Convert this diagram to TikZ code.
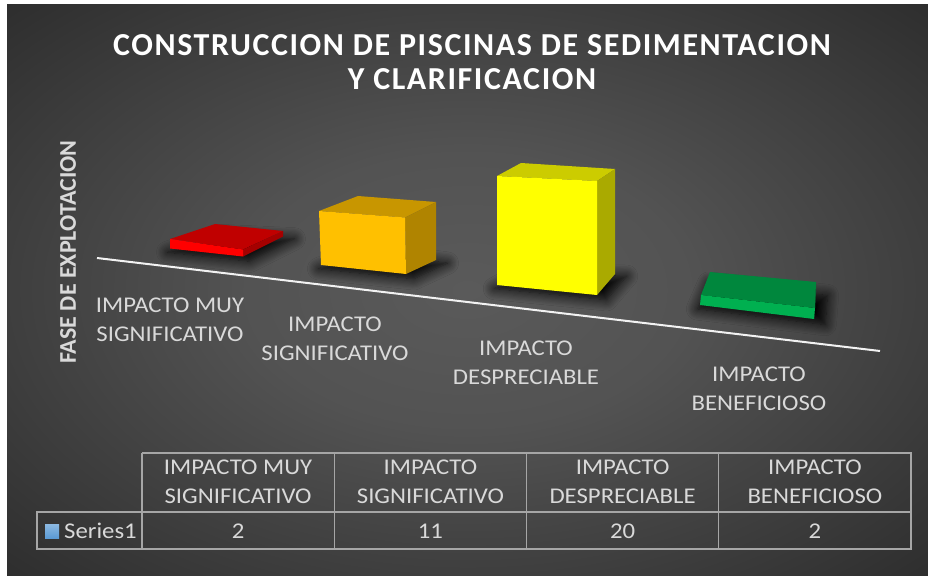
\documentclass[tikz,border=0pt]{standalone}
\usepackage{fontspec}
\setmainfont{Carlito}
\newfontfamily\titlefont{Carlito}[LetterSpace=5]
\newfontfamily\chartfont{Carlito}[FakeStretch=1.1]
\usetikzlibrary{shadows.blur}

\definecolor{bgin}{HTML}{5A5A5A}
\definecolor{bgout}{HTML}{2A2A2A}
\definecolor{labelgray}{HTML}{D9D9D9}
\definecolor{gridgray}{HTML}{A6A6A6}
\definecolor{seriesblue}{HTML}{5B9BD5}
\definecolor{redfront}{HTML}{FF0000}
\definecolor{redtop}{HTML}{C00000}
\definecolor{redside}{HTML}{A50000}
\definecolor{orangefront}{HTML}{FFC000}
\definecolor{orangetop}{HTML}{C89600}
\definecolor{orangeside}{HTML}{B08400}
\definecolor{yellowfront}{HTML}{FFFF00}
\definecolor{yellowtop}{HTML}{CCCC00}
\definecolor{yellowside}{HTML}{AAAA00}
\definecolor{greenfront}{HTML}{00B050}
\definecolor{greentop}{HTML}{00873D}
\definecolor{greenside}{HTML}{007A37}
\pgfdeclareradialshading{chartbg}{\pgfpoint{0bp}{0bp}}{color(0bp)=(bgin); color(12bp)=(bgin!85!bgout); color(38bp)=(bgout); color(50bp)=(bgout)}

% one 3D column: prefix, front, top, side
\newcommand{\impactbox}[4]{%
  \path[boxshadow] (#1-fbl) -- (#1-fbr) -- (#1-bbr) -- (#1-bbl) -- cycle;
  \fill[#3] (#1-ftl) -- (#1-ftr) -- (#1-btr) -- (#1-btl) -- cycle;
  \fill[#4] (#1-ftr) -- (#1-fbr) -- (#1-bbr) -- (#1-btr) -- cycle;
  \fill[#2] (#1-ftl) -- (#1-ftr) -- (#1-fbr) -- (#1-fbl) -- cycle;}

\begin{document}
\begin{tikzpicture}[x=1pt, y=-1pt,
    boxshadow/.style = {blur shadow={shadow xshift=4pt, shadow yshift=-3pt, shadow scale=1.12, shadow blur radius=10pt, shadow blur steps=10, shadow opacity=100}},
    cat/.style = {text=labelgray, align=center, font=\chartfont\fontsize{22.5}{28.5}\selectfont},
    cell/.style = {text=labelgray, align=center, font=\chartfont\fontsize{22.5}{29}\selectfont},
    grid/.style = {draw=gridgray, line width=1.4pt}]
  \useasboundingbox (0,0) rectangle (928,575);
  \fill[white] (0,0) rectangle (928,575);
  \shade[shading=chartbg] (7,5) rectangle (928,575);

  % title
  \node[text=white, align=center, font=\titlefont\bfseries\fontsize{32}{34}\selectfont] (title) at (472,62) {CONSTRUCCION DE PISCINAS DE SEDIMENTACION\\Y CLARIFICACION};

  % axis title
  \node[text=labelgray, rotate=90, font=\bfseries\fontsize{24}{28}\selectfont] (axistitle) at (68,252) {FASE DE EXPLOTACION};

  % category axis
  \coordinate (axisstart) at (97,258);
  \coordinate (axisend) at (880,351);
  \draw[white!90!gray, line width=2pt] (axisstart) -- (axisend);

  % columns
  \coordinate (r-ftl) at (170,239);   \coordinate (r-ftr) at (243,249.5);
  \coordinate (r-fbl) at (170,248.5); \coordinate (r-fbr) at (243,256.5);
  \coordinate (r-btl) at (215,224);   \coordinate (r-btr) at (283,231);
  \coordinate (r-bbl) at (215,233.5); \coordinate (r-bbr) at (283,236.5);
  \impactbox{r}{redfront}{redtop}{redside}

  \coordinate (o-ftl) at (319,211);   \coordinate (o-ftr) at (405,217.5);
  \coordinate (o-fbl) at (321,265);   \coordinate (o-fbr) at (406,274);
  \coordinate (o-btl) at (358,196);   \coordinate (o-btr) at (436,202);
  \coordinate (o-bbl) at (360,250);   \coordinate (o-bbr) at (436,260);
  \impactbox{o}{orangefront}{orangetop}{orangeside}

  \coordinate (y-ftl) at (497,176);   \coordinate (y-ftr) at (597,181);
  \coordinate (y-fbl) at (497,285);   \coordinate (y-fbr) at (597,295);
  \coordinate (y-btl) at (521,163);   \coordinate (y-btr) at (615,169);
  \coordinate (y-bbl) at (521,272);   \coordinate (y-bbr) at (615,274);
  \impactbox{y}{yellowfront}{yellowtop}{yellowside}

  \coordinate (g-ftl) at (701,295);   \coordinate (g-ftr) at (815,308);
  \coordinate (g-fbl) at (700,305);   \coordinate (g-fbr) at (814,319);
  \coordinate (g-btl) at (710,272);   \coordinate (g-btr) at (816,282);
  \coordinate (g-bbl) at (710,282);   \coordinate (g-bbr) at (816,293);
  \impactbox{g}{greenfront}{greentop}{greenside}

  % category labels
  \node[cat] (cat1) at (170,320) {IMPACTO MUY\\SIGNIFICATIVO};
  \node[cat] (cat2) at (335,339) {IMPACTO\\SIGNIFICATIVO};
  \node[cat] (cat3) at (526,363) {IMPACTO\\DESPRECIABLE};
  \node[cat] (cat4) at (759,389) {IMPACTO\\BENEFICIOSO};

  % data table
  \draw[grid] (142,453) -- (911,453) -- (911,549) -- (37,549) -- (37,512) -- (911,512);
  \foreach \x in {142,334.25,526.5,718.75}
    \draw[grid] (\x,453) -- (\x,549);
  \foreach \x/\name/\txt/\val in {238.1/mvs/{IMPACTO MUY\\SIGNIFICATIVO}/2,
                                   430.4/sig/{IMPACTO\\SIGNIFICATIVO}/11,
                                   622.6/des/{IMPACTO\\DESPRECIABLE}/20,
                                   814.9/ben/{IMPACTO\\BENEFICIOSO}/2} {
    \node[cell] (head-\name) at (\x,482) {\txt};
    \node[cell] (val-\name) at (\x,531) {\val};
  }
  \fill[top color=seriesblue!70!white, bottom color=seriesblue] (45,524) rectangle (59,538);
  \node[cell, anchor=west, inner sep=0pt] (series) at (64,531) {Series1};
\end{tikzpicture}
\end{document}
